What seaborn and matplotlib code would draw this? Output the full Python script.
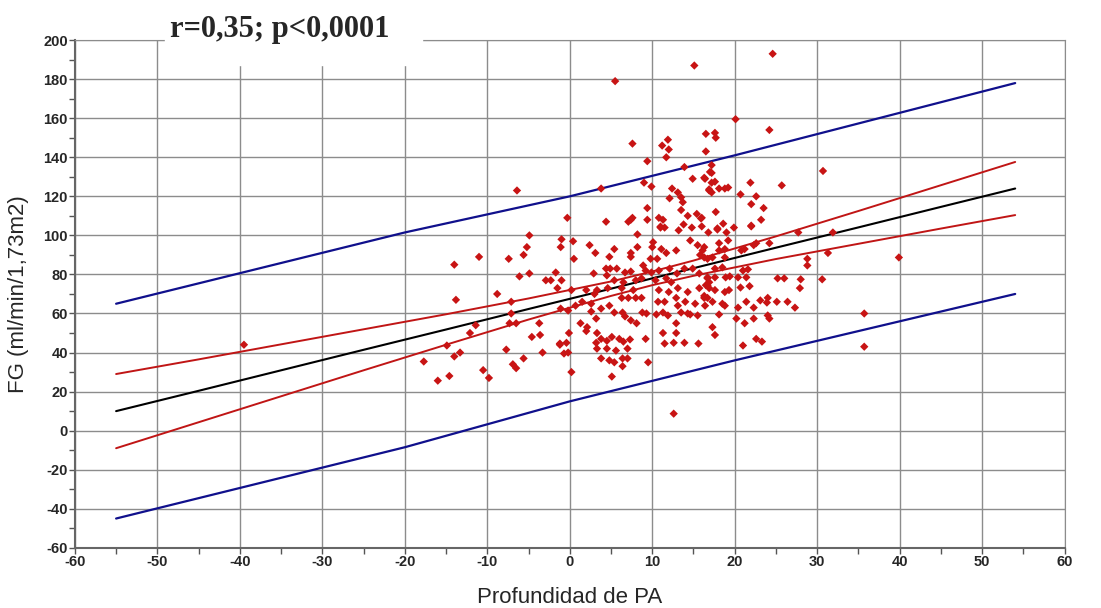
import numpy as np
import pandas as pd
import matplotlib
matplotlib.use('Agg')
import matplotlib.pyplot as plt
from matplotlib.patches import Rectangle
from matplotlib.ticker import MultipleLocator
import seaborn as sns

# scatter points (Profundidad de PA, FG)
pa = [-39.5, 5.5, 15.1, 24.6, 20.1, 24.2, 16.5, 17.7, 17.6, 16.5, 30.7, 25.7, 21.9, 20.7, 22.6, 22, 23.5, 23.2, 22,
      19.9, 18.6, 17.7, 17.9, 16, 17.2, 17.2, 16.4, 17.2, 17.6, 16.9, 17.2, 18.1, 18.8, 19.2,
      7.6, 9.4, 11.2, 11.9, 12, 11.7, 9, 9.9, 3.8, 13.9, 14.9, 16.3, 12.4, 13.1, 12.1, 13.5, 13.7, 13.5, 14.3, 13.8,
      15.4, 15.9, 16, 16.9, 17, 9.4, 9.4, 7.6, 7.4, 7.1, 4.4, -0.3, 10.8, 11.3, 11.5, 11, -6.4,
      -4.9, -1, -5.2, -1.1, -11, -7.4, -5.6, -14, -6.1, -4.9, -2.9, -2.3, -1.7, -1, -1.5, -8.8, -13.8, -7.1, -1.1,
      -7.1, -7.3, -6.5, -3.7, -11.4, -12.1, -3.6, -4.6, -14.9, -1.2, -13.3, -14, -3.3, -7.7, -17.7, -5.6, -6.9,
      -6.5, -10.5, -9.8, -14.6, -16,
      11, 13.2, 14.8, 16.8, 8.2, 0.4, 2.4, 5.4, 7.4, 8.2, 10.1, 10, 11.1, 12.9, 14.6, 15.5, 16.1, 3.1, 0.5, 4.8,
      7.4, 9.8, 10.6, 11.7, 15.8, 16.7, 2.9, 4.4, 4.9, 5.7, 4.5, 6.7, 7.4, 8.9, 9.2, 9.9, 10.8, 12.1, 13, 13.9,
      14.9, 15.7, 16.7, 5.4, 6.5, 8, 8.7, 10.4, 11.7, 12.3, 0.2, 2, 3.3, 4.6, 6.3, 7.7, 10.8, 12, 13.1, 14.3,
      15.7, 16.5, 3, 6.3, 7.1, 8, 8.7, 10.7, 11.5, 12.9, 13.1, 14, 15.2, 16.3, 16.4, -0.2, 0.7, 1.5, 2.6, 2.6,
      3.8, 4.8, 5.4, 6.4, 6.7, 7.4, 8.1, 8.8, 9.3, 10.5, 11.3, 11.9, 12.9, 13.5, 14.3, 14.6, 15.5, 1.3, 2.1, 2,
      3.2, 12.9, 11.3, -0.1, -1.2, -0.4, -0.2, -0.7, 3.3, 3.8, 3.2, 3.3, 4.5, 5.1, 6, 6.5, 7.3, 4.5, 5.6, 7,
      3.8, 4.8, 5.4, 6.4, 7, 6.4, 9.5, 9.2, 11.5, 12.6, 13.9, 15.6, 0.2, 5.1, 12.6,
      17.9, 19, 22, 18.1, 19.2, 16.3, 18.1, 18.8, 20.8, 21.2, 22.3, 22.6, 24.2, 27.7, 31.9, 16.3, 17.3, 18.8,
      17.6, 18.5, 21, 21.6, 28.8, 28.8, 31.3, 16.7, 17.6, 18.9, 19.4, 20.4, 21.4, 25.2, 26, 28, 30.6, 16.7,
      16.9, 17.6, 18.8, 19.3, 20.7, 21.8, 27.9, 16.3, 16.7, 17.3, 18.8, 18.5, 20.4, 21.4, 22.3, 23.1, 23.9, 24,
      25.1, 26.4, 27.3, 18.1, 20.2, 21.2, 22.3, 24, 24.2, 17.3, 17.6, 21, 22.6, 23.3, 35.7, 35.7, 16.9, 39.9]
fg = [44, 179, 187, 193, 159.5, 154, 152, 150, 152.5, 143, 133, 125.6, 127, 121, 120, 116, 114, 108, 105,
      104, 106, 112, 103.6, 109, 136, 132, 129, 127, 127.5, 123, 122, 124, 124, 124.5,
      147, 138, 146, 149, 144, 140, 127, 125, 124, 135, 129, 129.5, 124, 122, 119, 119.5, 117, 113, 110, 105.6,
      111, 108.7, 104.6, 123.6, 132.5, 114, 108, 109, 108, 107, 107, 109, 109, 108, 104, 104.5, 123,
      100, 98, 94, 94, 89, 88, 90, 85, 79, 80.5, 77, 77, 81, 77, 73, 70, 67, 66, 62.5,
      60, 55, 55, 55, 54, 50, 49, 48, 43.6, 44, 40, 38, 40, 41.5, 35.4, 37, 34,
      32, 31, 27, 28, 25.6,
      104, 102.6, 104, 101.5, 100.5, 97, 95, 93, 91, 94, 96.5, 94, 93, 92.3, 97.4, 95, 92.3, 91, 88, 89,
      89, 88, 88, 91, 90, 88, 80.5, 83, 83, 83, 79.5, 81, 81.5, 84.6, 82, 81, 82, 83, 80.5, 83,
      83, 80.5, 78, 77, 76, 77, 78, 77, 78, 76, 72, 72, 72, 73, 73, 72, 72, 71, 73, 71,
      73, 74.5, 70, 68, 68, 68, 68, 66, 66, 68, 64, 66, 65, 68, 64, 61.5, 64, 66, 65, 61,
      62.5, 64, 60.5, 60.5, 58.5, 56.5, 55, 60.5, 60, 59.5, 60.5, 59, 55, 60.5, 60, 59.5, 59, 55, 53, 51,
      57.4, 50, 50, 50, 44.6, 45, 40, 39.5, 50, 47, 45, 42, 46, 48, 47, 45.6, 46.7, 42, 41, 42,
      37, 36, 35, 37, 37, 33, 35, 47, 44.6, 45, 45, 44.6, 30, 27.7, 8.7,
      103, 101.5, 104.6, 96, 97.4, 94, 92.3, 93, 92.3, 93, 95, 96, 96, 101.5, 101.5, 88.7, 88.7, 88.7,
      83, 83.6, 82, 82.6, 88, 84.6, 91, 78.5, 78.5, 78.5, 79, 78.5, 78.5, 78, 78, 77.5, 77.5, 74.4,
      73, 72, 71, 72, 73.3, 74, 73, 69, 68, 66, 64, 65, 63, 66, 63, 66.7, 65.6, 68,
      66, 66, 63, 59.5, 57.4, 55, 57.4, 59, 57.4, 53, 49, 43.6, 47, 45.6, 60, 43, 76, 88.7]

# fitted line and bands, read at a few x positions
line_x = [-55, -45, -35, -25, -15, -5, 5, 10, 15, 25, 35, 45, 54]
fit_y = [10, 20.4, 30.9, 41.4, 51.8, 62.3, 72.7, 78, 83.2, 93.7, 104.1, 114.6, 124]
ci_upper = [29, 36.5, 44.2, 51.9, 59.6, 67.7, 76.4, 81.5, 87.1, 99.5, 112.5, 125.7, 137.6]
ci_lower = [-9, 4.3, 17.6, 30.9, 44, 56.9, 69, 74.5, 79.3, 87.9, 95.7, 103.5, 110.4]
pi_x = [-55, -20, 0, 20, 54]
pi_upper = [65, 101.5, 120, 141, 178]
pi_lower = [-45, -8.5, 15, 36, 70]

points = pd.DataFrame({'PA': pa, 'FG': fg})

sns.set_style('white')
plt.rcParams['axes.unicode_minus'] = False

fig, ax = plt.subplots(figsize=(11.01, 6.08), dpi=100)
fig.subplots_adjust(left=0.068, right=0.967, top=0.934, bottom=0.099)

for ys in [pi_upper, pi_lower]:
   sns.lineplot(x=pi_x, y=ys, color='#10108c', lw=1.6, ax=ax, zorder=3)
for ys in [ci_upper, ci_lower]:
   sns.lineplot(x=line_x, y=ys, color='#c01515', lw=1.4, ax=ax, zorder=3)
sns.lineplot(x=line_x, y=fit_y, color='black', lw=1.5, ax=ax, zorder=3)

sns.scatterplot(data=points, x='PA', y='FG', marker='D', s=18, color='#c81414',
                edgecolor='none', ax=ax, zorder=4)

ax.set_xlim(-60, 60)
ax.set_ylim(-60, 200)
ax.xaxis.set_major_locator(MultipleLocator(10))
ax.xaxis.set_minor_locator(MultipleLocator(5))
ax.yaxis.set_major_locator(MultipleLocator(20))
ax.yaxis.set_minor_locator(MultipleLocator(10))
ax.grid(True, which='major', color='#8c8c8c', lw=1.0)
ax.set_axisbelow(True)
ax.tick_params(which='both', direction='out', length=4, width=1, color='#555555',
               bottom=True, left=True, pad=1)
for lab in ax.get_xticklabels() + ax.get_yticklabels():
   lab.set_family(['Liberation Sans Narrow', 'Liberation Sans'])
   lab.set_fontweight('bold')
   lab.set_fontsize(10.5)
for side in ['top', 'right']:
   ax.spines[side].set_color('#8c8c8c')
for side in ['left', 'bottom']:
   ax.spines[side].set_color('#666666')
   ax.spines[side].set_linewidth(1.5)

ax.set_xlabel('Profundidad de PA', fontsize=16, family='Liberation Sans', labelpad=13)
ax.set_ylabel('FG (ml/min/1,73m2)', fontsize=16, family='Liberation Sans', labelpad=10)

# white box behind the title hides the grid under it
fig.patches.append(Rectangle((165 / 1101, 1 - 65 / 608), 257 / 1101, 65 / 608,
                             transform=fig.transFigure, color='white', zorder=5))
fig.text(0.254, 0.951, 'r=0,35; p<0,0001', ha='center', va='center', fontsize=22,
         fontweight='bold', family='Liberation Serif', zorder=6)

fig.savefig('out.png', dpi=100)
